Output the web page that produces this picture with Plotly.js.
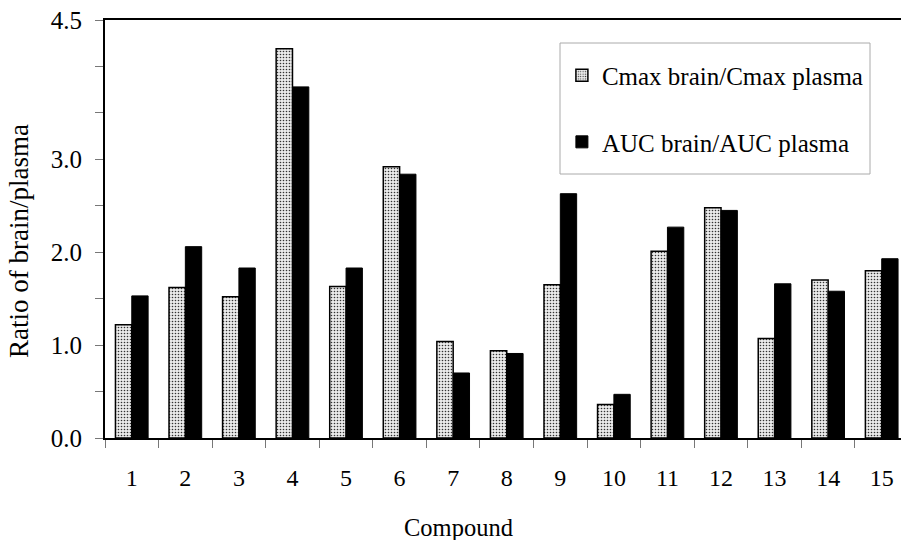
<!DOCTYPE html>
<html>
<head>
<meta charset="utf-8">
<script src="https://cdn.plot.ly/plotly-3.0.1.min.js"></script>
<style>html,body{margin:0;padding:0;background:#fff;}#chart{width:901px;height:540px;}</style>
</head>
<body>
<div id="chart"></div>
<script>
const compounds = ['1','2','3','4','5','6','7','8','9','10','11','12','13','14','15'];
const cmaxRatio = [1.22, 1.62, 1.52, 4.19, 1.63, 2.92, 1.04, 0.94, 1.65, 0.36, 2.01, 2.48, 1.07, 1.70, 1.80];
const aucRatio  = [1.53, 2.06, 1.83, 3.78, 1.83, 2.84, 0.70, 0.91, 2.63, 0.47, 2.27, 2.45, 1.66, 1.58, 1.93];
const yTickVals = [0, 0.5, 1, 1.5, 2, 2.5, 3, 3.5, 4, 4.5];
const yTickText = ['0.0', '', '1.0', '', '2.0', '', '3.0', '', '', '4.5'];
const seriesNames = ['Cmax brain/Cmax plasma', 'AUC brain/AUC plasma'];

const FONT = 'Times New Roman, Liberation Serif, DejaVu Serif, serif';

const traces = [
  {
    type: 'bar', x: compounds, y: cmaxRatio, name: seriesNames[0],
    legendgroup: 'a',
    marker: {
      color: '#e8e8e8',
      pattern: {shape: '.', fgcolor: '#333', bgcolor: '#eaeaea', size: 3, solidity: 0.22},
      line: {color: '#000', width: 1.5}
    },
    hoverinfo: 'x+y'
  },
  {
    type: 'bar', x: compounds, y: aucRatio, name: seriesNames[1],
    legendgroup: 'b',
    marker: {color: '#000', line: {color: '#000', width: 1}},
    hoverinfo: 'x+y'
  }
];

const layout = {
  width: 901, height: 540,
  margin: {l: 105, r: 0, t: 20, b: 102},
  paper_bgcolor: '#fff', plot_bgcolor: '#fff',
  font: {family: FONT, color: '#000', size: 24},
  barmode: 'group', bargap: 0.39, bargroupgap: 0,
  showlegend: true,
  legend: {
    x: 0.574, xanchor: 'left', y: 0.922, yanchor: 'top',
    bgcolor: 'rgba(0,0,0,0)', borderwidth: 0,
    traceorder: 'grouped', tracegroupgap: 31,
    font: {family: FONT, size: 25, color: '#000'}
  },
  xaxis: {
    type: 'category', range: [-0.5, 14.36],
    showline: true, linecolor: '#000', linewidth: 2, mirror: true,
    ticks: 'outside', tickson: 'boundaries', ticklen: 8, tickcolor: '#777', tickwidth: 1,
    tickfont: {family: FONT, size: 24, color: '#000'},
    ticklabelstandoff: 17,
    showgrid: false, zeroline: false
  },
  yaxis: {
    range: [0, 4.5],
    tickmode: 'array', tickvals: yTickVals, ticktext: yTickText,
    showline: true, linecolor: '#000', linewidth: 2,
    ticks: 'outside', ticklen: 8, tickcolor: '#777', tickwidth: 1,
    tickfont: {family: FONT, size: 25, color: '#000'},
    ticklabelstandoff: 8,
    showgrid: false, zeroline: false
  },
  shapes: [
    {type: 'rect', xref: 'paper', yref: 'paper',
     x0: (560 - 105) / 796, x1: (870 - 105) / 796,
     y0: (438 - 174) / 418, y1: (438 - 43) / 418,
     line: {color: '#aaa', width: 1}, fillcolor: 'rgba(0,0,0,0)', layer: 'below'}
  ],
  annotations: [
    {text: 'Compound', xref: 'paper', yref: 'paper',
     x: (458 - 105) / 796, y: (438 - 527) / 418, xanchor: 'center', yanchor: 'middle',
     showarrow: false, font: {family: FONT, size: 24.5, color: '#000'}},
    {text: 'Ratio of brain/plasma', xref: 'paper', yref: 'paper',
     x: (19 - 105) / 796, y: (438 - 241) / 418, xanchor: 'center', yanchor: 'middle',
     textangle: -90, showarrow: false, font: {family: FONT, size: 27, color: '#000'}}
  ]
};

Plotly.newPlot('chart', traces, layout, {displayModeBar: false, staticPlot: true});
</script>
</body>
</html>
